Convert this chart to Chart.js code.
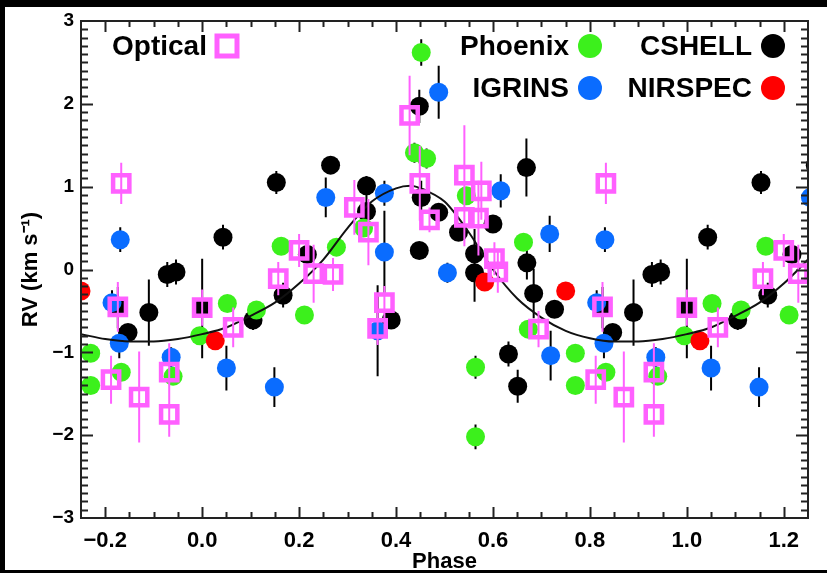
<!DOCTYPE html>
<html>
<head>
<meta charset="utf-8">
<script src="https://cdn.jsdelivr.net/npm/chart.js@4"></script>
<style>
  html, body { margin: 0; padding: 0; background: #000; }
</style>
</head>
<body>
<canvas id="rvChart" width="827" height="573"></canvas>
<script>
// phase-folded RV data, one base cycle (0..1); points near the ends are repeated one cycle over
const opticalPhase = [0.000, 0.064, 0.157, 0.200, 0.230, 0.270, 0.314, 0.343, 0.362, 0.376, 0.428, 0.449, 0.469, 0.541, 0.541, 0.570, 0.576, 0.603, 0.610, 0.694, 0.812, 0.826, 0.833, 0.870, 0.932, 0.932];
const opticalRv    = [-0.46, -0.70, -0.11, 0.23, -0.05, -0.06, 0.75, 0.45, -0.71, -0.40, 1.86, 1.04, 0.60, 1.14, 0.63, 0.62, 0.95, 0.13, -0.03, -0.72, -1.33, -0.45, 1.04, -1.54, -1.24, -1.75];
const opticalErr   = [0.22, 0.24, 0.20, 0.20, 0.35, 0.20, 0.33, 0.40, 0.20, 0.20, 0.48, 0.45, 0.15, 0.60, 0.35, 0.45, 0.35, 0.20, 0.25, 0.22, 0.29, 0.30, 0.25, 0.55, 0.35, 0.27];

const phoenixPhase = [0.052, 0.112, 0.163, 0.211, 0.277, 0.333, 0.438, 0.452, 0.463, 0.545, 0.564, 0.564, 0.663, 0.673, 0.770, 0.770, 0.833, 0.940, 0.995];
const phoenixRv    = [-0.41, -0.49, 0.28, -0.55, 0.27, 0.50, 1.41, 2.62, 1.34, 0.89, -1.18, -2.02, 0.33, -0.72, -1.01, -1.40, -1.24, -1.29, -0.80];
const phoenixErr   = [0.10, 0.10, 0.10, 0.10, 0.10, 0.10, 0.12, 0.16, 0.12, 0.10, 0.14, 0.15, 0.10, 0.10, 0.10, 0.10, 0.10, 0.10, 0.10];

const igrinsPhase = [0.050, 0.149, 0.255, 0.362, 0.376, 0.376, 0.488, 0.506, 0.616, 0.717, 0.719, 0.814, 0.829, 0.831, 0.936];
const igrinsRv    = [-1.19, -1.42, 0.87, -0.74, 0.92, 0.21, 2.14, -0.04, 0.95, 0.43, -1.04, -0.40, -0.89, 0.36, -1.06];
const igrinsErr   = [0.27, 0.24, 0.24, 0.55, 0.15, 0.50, 0.32, 0.12, 0.20, 0.22, 0.30, 0.15, 0.18, 0.15, 0.12];

const cshellPhase = [0.000, 0.043, 0.105, 0.153, 0.167, 0.217, 0.265, 0.339, 0.339, 0.390, 0.448, 0.448, 0.452, 0.488, 0.529, 0.562, 0.562, 0.600, 0.632, 0.651, 0.669, 0.670, 0.684, 0.727, 0.826, 0.847, 0.890, 0.928, 0.946];
const cshellRv    = [-0.47, 0.39, -0.61, 1.05, -0.31, 0.18, 1.26, 1.01, 0.70, -0.61, 1.97, 0.23, 0.87, 0.69, 0.45, 0.19, -0.04, 0.55, -1.02, -1.41, 1.23, 0.08, -0.29, -0.48, -0.46, -0.76, -0.52, -0.06, -0.03];
const cshellErr   = [0.60, 0.15, 0.12, 0.14, 0.15, 0.12, 0.10, 0.12, 0.30, 0.10, 0.20, 0.10, 0.20, 0.10, 0.10, 0.30, 0.35, 0.10, 0.15, 0.20, 0.35, 0.20, 0.30, 0.10, 0.25, 0.10, 0.40, 0.15, 0.15];

const nirspecPhase = [0.027, 0.583, 0.750];
const nirspecRv    = [-0.86, -0.15, -0.26];

// orbit model curve
const modelPhase = [-0.25, -0.20, -0.15, -0.10, -0.05, 0.00, 0.05, 0.10, 0.15, 0.20, 0.25, 0.30, 0.35, 0.40, 0.43, 0.45, 0.50, 0.55, 0.60, 0.65, 0.70, 0.75, 0.80, 0.85, 0.90, 0.95, 1.00, 1.05, 1.10, 1.15, 1.20, 1.25];
const modelRv    = [-0.78, -0.84, -0.87, -0.87, -0.84, -0.78, -0.70, -0.56, -0.40, -0.17, 0.12, 0.50, 0.82, 0.98, 1.01, 0.98, 0.82, 0.45, 0.00, -0.35, -0.58, -0.74, -0.83, -0.87, -0.87, -0.84, -0.78, -0.70, -0.56, -0.40, -0.17, 0.12];

const xTicks = [-0.2, 0, 0.2, 0.4, 0.6, 0.8, 1.0, 1.2];
const xTickLabels = ['−0.2', '0.0', '0.2', '0.4', '0.6', '0.8', '1.0', '1.2'];
const yTicks = [-3, -2, -1, 0, 1, 2, 3];
const yTickLabels = ['−3', '−2', '−1', '0', '1', '2', '3'];

const PINK = '#ff60ff';
const GREEN = '#3cf01c';
const BLUE = '#0a6cff';
const RED = '#ff0000';
const FONT = '"Liberation Sans", Arial, Helvetica, sans-serif';

// repeat each point one cycle earlier / later
function fold(phase, rv, err) {
  const out = [];
  phase.forEach((p, i) => {
    const e = err ? err[i] : 0;
    out.push({ x: p, y: rv[i], e });
    if (p < 0.3) out.push({ x: p + 1, y: rv[i], e });
    if (p > 0.7) out.push({ x: p - 1, y: rv[i], e });
  });
  return out;
}

// vertical error bars as broken line segments
function errBars(phase, rv, err) {
  const segs = [];
  fold(phase, rv, err).forEach(pt => {
    segs.push({ x: pt.x, y: pt.y - pt.e });
    segs.push({ x: pt.x, y: pt.y + pt.e });
    segs.push({ x: pt.x, y: null });
  });
  return segs;
}

function barSet(data, color, order) {
  return { data, showLine: true, spanGaps: false, borderColor: color, borderWidth: 2,
           pointRadius: 0, order, clip: 0 };
}
function dotSet(data, color, order) {
  return { data, showLine: false, pointStyle: 'circle', pointRadius: 9.5, pointBorderWidth: 0,
           pointBackgroundColor: color, pointBorderColor: color, order, clip: 0 };
}

const framePlugin = {
  id: 'frame',
  beforeDraw(chart) {
    const ctx = chart.ctx;
    ctx.save();
    ctx.fillStyle = '#000';
    ctx.fillRect(0, 0, chart.width, chart.height);
    ctx.fillStyle = '#fff';
    ctx.fillRect(5, 7, chart.width - 5, 563);
    ctx.restore();
  },
  afterDraw(chart) {
    const { ctx, chartArea: a, scales: { x, y } } = chart;
    ctx.save();
    ctx.strokeStyle = '#222';
    ctx.lineWidth = 2;
    ctx.strokeRect(a.left, a.top, a.right - a.left, a.bottom - a.top);
    ctx.beginPath();
    for (let k = -4; k <= 24; k++) {
      const px = Math.round(x.getPixelForValue(k * 0.05)) + 0.5;
      const len = k % 4 === 0 ? 11 : 6;
      ctx.moveTo(px, a.bottom); ctx.lineTo(px, a.bottom - len);
      ctx.moveTo(px, a.top); ctx.lineTo(px, a.top + len);
    }
    for (let k = -29; k <= 29; k++) {
      const py = Math.round(y.getPixelForValue(k / 10)) + 0.5;
      const len = k % 10 === 0 ? 12 : 7;
      ctx.moveTo(a.left, py); ctx.lineTo(a.left + len, py);
      ctx.moveTo(a.right, py); ctx.lineTo(a.right - len, py);
    }
    ctx.stroke();

    // legend
    ctx.font = 'bold 28px ' + FONT;
    ctx.fillStyle = '#000';
    ctx.textBaseline = 'middle';
    ctx.textAlign = 'left';
    ctx.fillText('Optical', 112, 47);
    ctx.strokeStyle = PINK;
    ctx.lineWidth = 5;
    ctx.strokeRect(217, 36, 20, 20);
    ctx.textAlign = 'right';
    const entries = [
      ['Phoenix', GREEN, 569, 590, 46],
      ['IGRINS', BLUE, 569, 590, 88],
      ['CSHELL', '#000', 752, 773, 46],
      ['NIRSPEC', RED, 752, 773, 88]
    ];
    entries.forEach(([label, color, tx, cx, cy]) => {
      ctx.fillStyle = '#000';
      ctx.fillText(label, tx, cy + 1);
      ctx.fillStyle = color;
      ctx.beginPath();
      ctx.arc(cx, cy, 12, 0, Math.PI * 2);
      ctx.fill();
    });
    ctx.restore();
  }
};

const ctx = document.getElementById('rvChart').getContext('2d');
new Chart(ctx, {
  type: 'scatter',
  data: {
    datasets: [
      barSet(errBars(cshellPhase, cshellRv, cshellErr), '#000', 20),
      dotSet(fold(cshellPhase, cshellRv), '#000', 19),
      barSet(errBars(igrinsPhase, igrinsRv, igrinsErr), '#000', 18),
      dotSet(fold(igrinsPhase, igrinsRv), BLUE, 17),
      barSet(errBars(phoenixPhase, phoenixRv, phoenixErr), '#000', 16),
      dotSet(fold(phoenixPhase, phoenixRv), GREEN, 15),
      dotSet(fold(nirspecPhase, nirspecRv), RED, 14),
      {
        data: modelPhase.map((p, i) => ({ x: p, y: modelRv[i] })),
        showLine: true, borderColor: '#111', borderWidth: 2, pointRadius: 0,
        cubicInterpolationMode: 'monotone', order: 13, clip: 0
      },
      barSet(errBars(opticalPhase, opticalRv, opticalErr), PINK, 2),
      {
        data: fold(opticalPhase, opticalRv),
        showLine: false, pointStyle: 'rect', pointRadius: 11.5, pointBorderWidth: 4.5,
        pointBorderColor: PINK, pointBackgroundColor: 'rgba(255,255,255,0)', order: 1, clip: 0
      }
    ]
  },
  options: {
    responsive: false,
    animation: false,
    layout: { padding: { left: 5, right: 19, top: 21, bottom: 0 } },
    plugins: { legend: { display: false }, tooltip: { enabled: false } },
    scales: {
      x: {
        type: 'linear', min: -0.25, max: 1.25,
        grid: { display: false, drawTicks: false },
        border: { display: false },
        afterBuildTicks: s => { s.ticks = xTicks.map(v => ({ value: v })); },
        afterFit: s => { s.height = 55; },
        ticks: {
          callback: (v, i) => xTickLabels[i],
          font: { family: FONT, size: 22, weight: 'bold' }, color: '#000',
          padding: 10, maxRotation: 0, autoSkip: false
        },
        title: {
          display: true, text: 'Phase',
          font: { family: FONT, size: 22, weight: 'bold', lineHeight: 1.0 }, color: '#000',
          padding: { top: 0, bottom: 0 }
        }
      },
      y: {
        type: 'linear', min: -3, max: 3,
        grid: { display: false, drawTicks: false },
        border: { display: false },
        afterBuildTicks: s => { s.ticks = yTicks.map(v => ({ value: v })); },
        afterFit: s => { s.width = 76; },
        ticks: {
          callback: (v, i) => yTickLabels[i],
          font: { family: FONT, size: 19, weight: 'bold' }, color: '#000',
          padding: 7, autoSkip: false
        },
        title: {
          display: true, text: 'RV (km s⁻¹)',
          font: { family: FONT, size: 22, weight: 'bold' }, color: '#000',
          padding: { top: 13, bottom: 0 }
        }
      }
    }
  },
  plugins: [framePlugin]
});
</script>
</body>
</html>
